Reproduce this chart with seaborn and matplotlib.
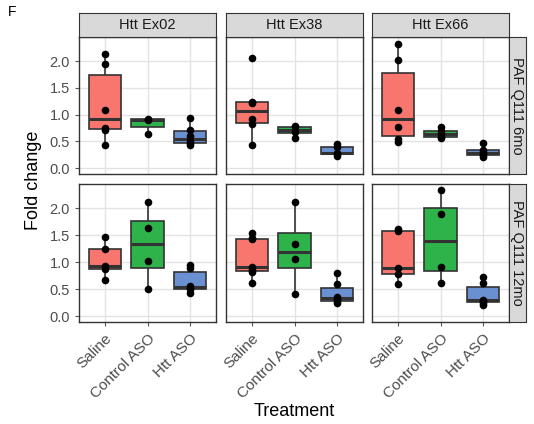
import seaborn as sns
import pandas as pd
import matplotlib.pyplot as plt

treatments = ["Saline", "Control ASO", "Htt ASO"]
exons = ["Htt Ex02", "Htt Ex38", "Htt Ex66"]
ages = ["PAF Q111 6mo", "PAF Q111 12mo"]
colors = ["#F8766D", "#2DB34A", "#6A90D2"]

# fold change values, per treatment (Saline, Control ASO, Htt ASO)
ex02_6mo = [[0.44, 0.72, 0.75, 1.09, 1.95, 2.14], [0.64, 0.90, 0.92], [0.44, 0.47, 0.50, 0.60, 0.72, 0.94]]
ex38_6mo = [[0.44, 0.82, 0.92, 1.22, 1.24, 2.06], [0.57, 0.68, 0.76, 0.79], [0.23, 0.26, 0.28, 0.40, 0.45]]
ex66_6mo = [[0.48, 0.55, 0.77, 1.08, 2.02, 2.32], [0.56, 0.59, 0.64, 0.70, 0.77], [0.20, 0.24, 0.27, 0.30, 0.34, 0.47]]
ex02_12mo = [[0.67, 0.88, 0.92, 1.25, 1.47], [0.50, 1.02, 1.64, 2.11], [0.43, 0.50, 0.52, 0.56, 0.90, 0.94]]
ex38_12mo = [[0.61, 0.82, 0.86, 0.91, 1.43, 1.44, 1.54], [0.41, 1.05, 1.34, 2.12], [0.25, 0.28, 0.31, 0.35, 0.59, 0.80]]
ex66_12mo = [[0.59, 0.78, 0.89, 1.57, 1.61], [0.62, 0.91, 1.89, 2.34], [0.21, 0.25, 0.28, 0.30, 0.62, 0.73]]

panels = [[ex02_6mo, ex38_6mo, ex66_6mo], [ex02_12mo, ex38_12mo, ex66_12mo]]

plt.rcParams["font.family"] = ["Liberation Sans", "DejaVu Sans"]
fig = plt.figure(figsize=(5.34, 4.24), dpi=100)
W, H = 534, 424

lefts = [79, 226, 372]
pw = 137
tops = [37, 184]
ph = [137, 138]
strip_h = 24
edge = "#333333"

for r in range(2):
    for c in range(3):
        rows = []
        for t, vals in zip(treatments, panels[r][c]):
            for v in vals:
                rows.append({"Treatment": t, "Fold change": v})
        df = pd.DataFrame(rows)
        ax = fig.add_axes([lefts[c] / W, 1 - (tops[r] + ph[r]) / H, pw / W, ph[r] / H])
        sns.boxplot(data=df, x="Treatment", y="Fold change", hue="Treatment", order=treatments,
                    hue_order=treatments, palette=colors, width=0.75, showfliers=False, ax=ax,
                    linecolor=edge, linewidth=1.2, medianprops={"linewidth": 2.2, "color": edge},
                    saturation=1, legend=False, showcaps=False)
        sns.stripplot(data=df, x="Treatment", y="Fold change", order=treatments, jitter=False,
                      color="black", size=5.5, ax=ax, zorder=5)
        ax.set_axisbelow(True)
        ax.grid(True, axis="both", color="#E3E3E3", lw=1)
        ax.set_xlim(-0.6, 2.6)
        ax.set_ylim(-0.11, 2.45)
        ax.set_yticks([0, 0.5, 1.0, 1.5, 2.0])
        ax.set_xlabel("")
        ax.set_ylabel("")
        for s in ax.spines.values():
            s.set_color(edge)
            s.set_linewidth(1)
        ax.tick_params(length=3, color="#555555", labelsize=10.5, labelcolor="#4D4D4D")
        if c == 0:
            ax.set_yticklabels(["0.0", "0.5", "1.0", "1.5", "2.0"])
        else:
            ax.set_yticklabels([])
            ax.tick_params(axis="y", length=0)
        if r == 1:
            ax.set_xticks(range(3))
            ax.set_xticklabels(treatments, rotation=45, ha="right", rotation_mode="anchor", fontsize=11)
        else:
            ax.set_xticklabels([])
            ax.tick_params(axis="x", length=0)
        if r == 0:
            sax = fig.add_axes([lefts[c] / W, 1 - tops[r] / H, pw / W, strip_h / H])
            sax.set_facecolor("#D9D9D9")
            sax.set_xticks([])
            sax.set_yticks([])
            for s in sax.spines.values():
                s.set_color(edge)
            sax.text(0.5, 0.5, exons[c], ha="center", va="center", fontsize=10.5, color="#1A1A1A")
        if c == 2:
            rax = fig.add_axes([(lefts[c] + pw) / W, 1 - (tops[r] + ph[r]) / H, 17 / W, ph[r] / H])
            rax.set_facecolor("#D9D9D9")
            rax.set_xticks([])
            rax.set_yticks([])
            for s in rax.spines.values():
                s.set_color(edge)
            rax.text(0.5, 0.5, ages[r], ha="center", va="center", rotation=-90, fontsize=10.5, color="#1A1A1A")

fig.text(34 / W, 1 - 180 / H, "Fold change", rotation=90, ha="center", va="center", fontsize=13)
fig.text(294 / W, 1 - 412 / H, "Treatment", ha="center", va="center", fontsize=13)
fig.text(8 / W, 1 - 12 / H, "F", ha="left", va="center", fontsize=10)

fig.savefig("out.png", dpi=100)
